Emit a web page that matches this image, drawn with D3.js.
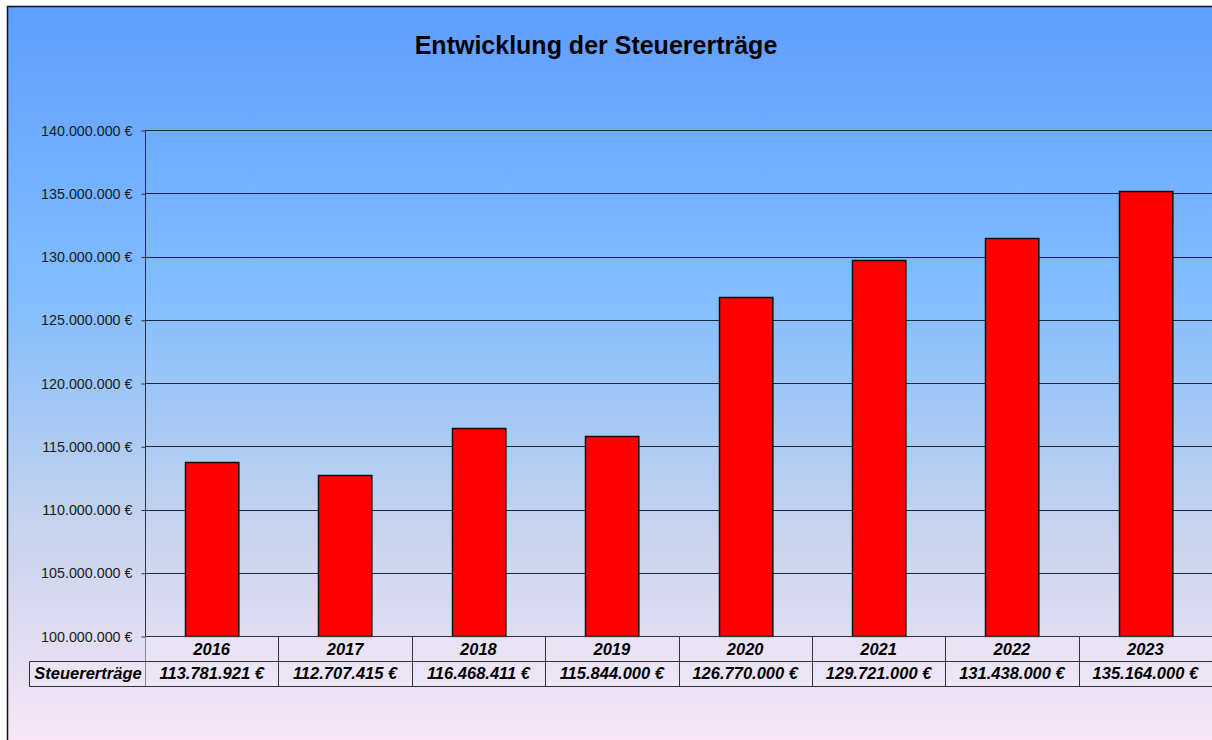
<!DOCTYPE html>
<html>
<head>
<meta charset="utf-8">
<script src="https://cdn.jsdelivr.net/npm/d3@7"></script>
<style>
  html, body { margin: 0; padding: 0; background: #fff; overflow: hidden; }
  svg { display: block; font-family: "Liberation Sans", Arial, sans-serif; }
</style>
</head>
<body>
<div id="chart"></div>
<script>
const years = ['2016','2017','2018','2019','2020','2021','2022','2023'];
const revenues = [113781921, 112707415, 116468411, 115844000, 126770000, 129721000, 131438000, 135164000];
const yTicks = [100000000, 105000000, 110000000, 115000000, 120000000, 125000000, 130000000, 135000000, 140000000];
const seriesName = 'Steuererträge';
const title = 'Entwicklung der Steuererträge';

const W = 1212, H = 740;
const plotL = 145, plotR = 1212, plotT = 130, plotB = 636;
const rowH = 25;

const fmt = v => d3.format(',')(v).replace(/,/g, '.') + ' €';

const svg = d3.select('#chart').append('svg').attr('width', W).attr('height', H);

// background gradient
const defs = svg.append('defs');
const grad = defs.append('linearGradient').attr('id', 'bg').attr('x1', 0).attr('y1', 0).attr('x2', 0).attr('y2', 1);
[[0, '#5f9eff'], [0.38, '#80bcff'], [0.55, '#a4c8f4'], [0.72, '#cad4ee'], [1, '#f9e6f6']]
  .forEach(s => grad.append('stop').attr('offset', s[0]).attr('stop-color', s[1]));

svg.append('rect').attr('x', 7.5).attr('y', 6.5).attr('width', W).attr('height', H)
  .attr('fill', 'url(#bg)').attr('stroke', '#111').attr('stroke-width', 1.5);

svg.append('text').attr('x', 596).attr('y', 54).attr('text-anchor', 'middle')
  .style('font-size', '25px').style('font-weight', 'bold').style('fill', '#000')
  .text(title);

const x = d3.scaleBand().domain(years).range([plotL, plotR]).paddingInner(0.6).paddingOuter(0.3);
const y = d3.scaleLinear().domain([100000000, 140000000]).range([plotB, plotT]);
const step = x.step();

// gridlines
svg.append('g').selectAll('line').data(yTicks).enter().append('line')
  .attr('x1', plotL).attr('x2', plotR)
  .attr('y1', d => Math.round(y(d)) + 0.5).attr('y2', d => Math.round(y(d)) + 0.5)
  .attr('stroke', '#1e2a3a').attr('stroke-width', 1);

// y axis
const ya = svg.append('g').attr('transform', `translate(${plotL + 0.5},0.5)`)
  .call(d3.axisLeft(y).tickValues(yTicks).tickSize(4).tickPadding(9).tickFormat(fmt));
ya.select('.domain').attr('stroke', '#2a3444').attr('d', `M0,${plotT}V${plotB + rowH * 2}`);
ya.selectAll('.tick line').attr('stroke', '#2a3444');
ya.selectAll('text').style('font-size', '14.3px').style('fill', '#1a1a1a')
  .style('font-family', '"Liberation Sans", Arial, sans-serif');

// bars
svg.append('g').selectAll('rect').data(revenues).enter().append('rect')
  .attr('x', (d, i) => Math.round(x(years[i])) + 0.5)
  .attr('y', d => Math.round(y(d)) + 0.5)
  .attr('width', x.bandwidth())
  .attr('height', d => plotB - Math.round(y(d)))
  .attr('fill', '#ff0000').attr('stroke', '#111').attr('stroke-width', 1.5);

// data table
const tbl = svg.append('g');
const tableLeft = 29;
const cellFont = '16.5px';
tbl.append('rect').attr('x', plotL).attr('y', plotB).attr('width', plotR - plotL).attr('height', rowH * 2)
  .attr('fill', 'rgba(240,234,248,0.45)');
tbl.append('rect').attr('x', tableLeft).attr('y', plotB + rowH).attr('width', plotL - tableLeft).attr('height', rowH)
  .attr('fill', 'rgba(240,234,248,0.45)');
const hl = [[plotL, plotB, plotR, plotB], [tableLeft, plotB + rowH, plotR, plotB + rowH],
  [tableLeft, plotB + 2 * rowH, plotR, plotB + 2 * rowH], [tableLeft, plotB + rowH, tableLeft, plotB + 2 * rowH]];
hl.forEach(l => tbl.append('line').attr('x1', l[0] + 0.5).attr('y1', l[1] + 0.5).attr('x2', l[2] + 0.5).attr('y2', l[3] + 0.5)
  .attr('stroke', '#333').attr('stroke-width', 1));
years.forEach((yr, i) => {
  const x0 = Math.round(plotL + step * i);
  if (i > 0) tbl.append('line').attr('x1', x0 + 0.5).attr('x2', x0 + 0.5)
    .attr('y1', plotB).attr('y2', plotB + 2 * rowH).attr('stroke', '#333');
  const cx = plotL + step * (i + 0.5);
  tbl.append('text').attr('x', cx).attr('y', plotB + 19).attr('text-anchor', 'middle')
    .style('font-size', cellFont).style('font-weight', 'bold').style('font-style', 'italic').text(yr);
  tbl.append('text').attr('x', cx).attr('y', plotB + rowH + 18).attr('text-anchor', 'middle')
    .style('font-size', cellFont).style('font-weight', 'bold').style('font-style', 'italic').text(fmt(revenues[i]));
});
tbl.append('text').attr('x', (tableLeft + plotL) / 2 + 1).attr('y', plotB + rowH + 18).attr('text-anchor', 'middle')
  .style('font-size', cellFont).style('font-weight', 'bold').style('font-style', 'italic').text(seriesName);
</script>
</body>
</html>
